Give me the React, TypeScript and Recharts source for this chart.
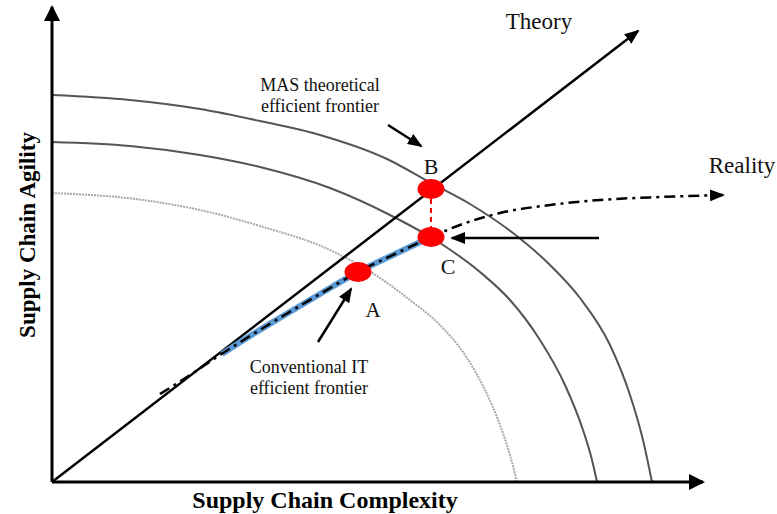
import type { FC } from 'react';
import { ComposedChart, Line, Scatter, XAxis, YAxis, ReferenceDot } from 'recharts';

type Pt = { x: number; y: number };

// x = supply chain complexity, y = supply chain agility (both in picture units)
const masFrontier: Pt[] = [
  { x: 0, y: 387 }, { x: 78, y: 382 }, { x: 148, y: 373 }, { x: 208, y: 361 },
  { x: 268, y: 347 }, { x: 335, y: 323 }, { x: 379, y: 299 }, { x: 418, y: 278 },
  { x: 461, y: 249 }, { x: 498, y: 217 }, { x: 528, y: 184 }, { x: 558, y: 137 },
  { x: 578, y: 87 }, { x: 591, y: 42 }, { x: 600, y: 0 },
];

const middleFrontier: Pt[] = [
  { x: 0, y: 340 }, { x: 78, y: 336 }, { x: 148, y: 327 }, { x: 208, y: 315 },
  { x: 278, y: 294 }, { x: 338, y: 267 }, { x: 388, y: 239 }, { x: 428, y: 210 },
  { x: 458, y: 182 }, { x: 488, y: 142 }, { x: 513, y: 97 }, { x: 531, y: 52 },
  { x: 540, y: 22 }, { x: 545, y: 0 },
];

const itFrontier: Pt[] = [
  { x: 0, y: 289 }, { x: 91, y: 282 }, { x: 148, y: 272 }, { x: 208, y: 256 },
  { x: 278, y: 232 }, { x: 331, y: 202 }, { x: 358, y: 182 }, { x: 388, y: 157 },
  { x: 413, y: 127 }, { x: 433, y: 92 }, { x: 448, y: 57 }, { x: 458, y: 27 },
  { x: 465, y: 0 },
];

const realityPath: Pt[] = [
  { x: 108, y: 88 }, { x: 138, y: 107 }, { x: 165, y: 125 }, { x: 198, y: 146 },
  { x: 231, y: 166 }, { x: 268, y: 188 }, { x: 306, y: 210 }, { x: 343, y: 228 },
  { x: 379, y: 245 }, { x: 408, y: 257 }, { x: 448, y: 269 }, { x: 498, y: 277 },
  { x: 548, y: 282 }, { x: 608, y: 285 }, { x: 671, y: 287 },
];

const achievedPath: Pt[] = [
  { x: 170, y: 128 }, { x: 198, y: 146 }, { x: 231, y: 166 }, { x: 268, y: 188 },
  { x: 306, y: 210 }, { x: 343, y: 228 }, { x: 379, y: 245 },
];

const theoryPath: Pt[] = [{ x: 0, y: 0 }, { x: 586, y: 451 }];
const agilityAxis: Pt[] = [{ x: 0, y: 0 }, { x: 0, y: 475 }];
const complexityAxis: Pt[] = [{ x: 0, y: 0 }, { x: 651, y: 0 }];

const points: Pt[] = [
  { x: 306, y: 210 }, // A
  { x: 379, y: 293 }, // B
  { x: 379, y: 245 }, // C
];
const gapBC: Pt[] = [{ x: 379, y: 283 }, { x: 379, y: 255 }];

const masPointer: Pt[] = [{ x: 336, y: 357 }, { x: 369, y: 336 }];
const cPointer: Pt[] = [{ x: 547, y: 244 }, { x: 400, y: 244 }];
const itPointer: Pt[] = [{ x: 266, y: 140 }, { x: 299, y: 193 }];

const notes = [
  { lines: ['Theory'], x: 487, y: 453, size: 23 },
  { lines: ['Reality'], x: 690, y: 309, size: 23 },
  { lines: ['MAS theoretical', 'efficient frontier'], x: 268, y: 391, size: 18 },
  { lines: ['Conventional IT', 'efficient frontier'], x: 257, y: 109, size: 18 },
  { lines: ['B'], x: 379, y: 308, size: 22 },
  { lines: ['C'], x: 396, y: 208, size: 22 },
  { lines: ['A'], x: 321, y: 165, size: 21 },
];

const SERIF = '"Liberation Serif", "Times New Roman", serif';

const renderNote = (n: (typeof notes)[number]) => (props: any) => {
  const vb = props.viewBox || {};
  const cx = (vb.x ?? 0) + (vb.width ?? 0) / 2;
  const cy = (vb.y ?? 0) + (vb.height ?? 0) / 2;
  return (
    <text x={cx} y={cy} textAnchor="middle" fontFamily={SERIF} fontSize={n.size} fill="#111">
      {n.lines.map((l, i) => (
        <tspan key={l} x={cx} dy={i === 0 ? 0 : n.size * 1.15}>
          {l}
        </tspan>
      ))}
    </text>
  );
};

const RedDot = (props: any) => (
  <ellipse cx={props.cx} cy={props.cy} rx={13.5} ry={10} fill="#ff0000" />
);

const App: FC = () => {
  return (
    <div style={{ position: 'absolute', left: 0, top: 0, width: 777, height: 514, background: '#fff' }}>
      <ComposedChart width={777} height={514} margin={{ top: 0, right: 5, left: 0, bottom: 0 }}>
        <defs>
          <marker id="arrowAxis" viewBox="0 0 16 16" markerWidth={16} markerHeight={16}
            refX={14} refY={8} orient="auto" markerUnits="userSpaceOnUse">
            <path d="M0,0 L16,8 L0,16 z" fill="#000" />
          </marker>
          <marker id="arrowSmall" viewBox="0 0 15 12" markerWidth={15} markerHeight={12}
            refX={13} refY={6} orient="auto" markerUnits="userSpaceOnUse">
            <path d="M0,0 L15,6 L0,12 z" fill="#000" />
          </marker>
        </defs>
        <XAxis
          type="number"
          dataKey="x"
          domain={[-10, 720]}
          allowDataOverflow
          height={22}
          axisLine={false}
          tick={false}
          tickLine={false}
          label={() => (
            <text x={325} y={508} textAnchor="middle" fontFamily={SERIF} fontWeight="bold" fontSize={24}>
              Supply Chain Complexity
            </text>
          )}
        />
        <YAxis
          type="number"
          dataKey="y"
          domain={[-10, 482]}
          allowDataOverflow
          width={42}
          axisLine={false}
          tick={false}
          tickLine={false}
          label={() => (
            <text x={35} y={235} transform="rotate(-90, 35, 235)" textAnchor="middle"
              fontFamily={SERIF} fontWeight="bold" fontSize={23}>
              Supply Chain Agility
            </text>
          )}
        />

        <Line data={itFrontier} dataKey="y" type="monotone" stroke="#a8a8a8" strokeWidth={2}
          strokeDasharray="2 1" dot={false} isAnimationActive={false} />
        <Line data={middleFrontier} dataKey="y" type="monotone" stroke="#555" strokeWidth={2}
          dot={false} isAnimationActive={false} />
        <Line data={masFrontier} dataKey="y" type="monotone" stroke="#555" strokeWidth={2}
          dot={false} isAnimationActive={false} />

        <Line data={agilityAxis} dataKey="y" type="linear" stroke="#000" strokeWidth={3}
          dot={false} markerEnd="url(#arrowAxis)" isAnimationActive={false} />
        <Line data={complexityAxis} dataKey="y" type="linear" stroke="#000" strokeWidth={3}
          dot={false} markerEnd="url(#arrowAxis)" isAnimationActive={false} />
        <Line data={theoryPath} dataKey="y" type="linear" stroke="#000" strokeWidth={2.5}
          dot={false} markerEnd="url(#arrowSmall)" isAnimationActive={false} />

        <Line data={achievedPath} dataKey="y" type="monotone" stroke="#5b9bd5" strokeWidth={6}
          dot={false} isAnimationActive={false} />
        <Line data={realityPath} dataKey="y" type="monotone" stroke="#000" strokeWidth={2.5}
          strokeDasharray="11 5 3 5" dot={false} markerEnd="url(#arrowSmall)" isAnimationActive={false} />

        <Line data={gapBC} dataKey="y" type="linear" stroke="#ff0000" strokeWidth={2}
          strokeDasharray="5 4" dot={false} isAnimationActive={false} />

        <Line data={masPointer} dataKey="y" type="linear" stroke="#000" strokeWidth={2.5}
          dot={false} markerEnd="url(#arrowSmall)" isAnimationActive={false} />
        <Line data={cPointer} dataKey="y" type="linear" stroke="#000" strokeWidth={2.5}
          dot={false} markerEnd="url(#arrowSmall)" isAnimationActive={false} />
        <Line data={itPointer} dataKey="y" type="linear" stroke="#000" strokeWidth={2.5}
          dot={false} markerEnd="url(#arrowSmall)" isAnimationActive={false} />

        <Scatter data={points} dataKey="y" shape={RedDot} isAnimationActive={false} />

        {notes.map((n) => (
          <ReferenceDot key={n.lines[0]} x={n.x} y={n.y} r={0} fill="none" stroke="none"
            label={renderNote(n)} />
        ))}
      </ComposedChart>
    </div>
  );
};

export default App;
